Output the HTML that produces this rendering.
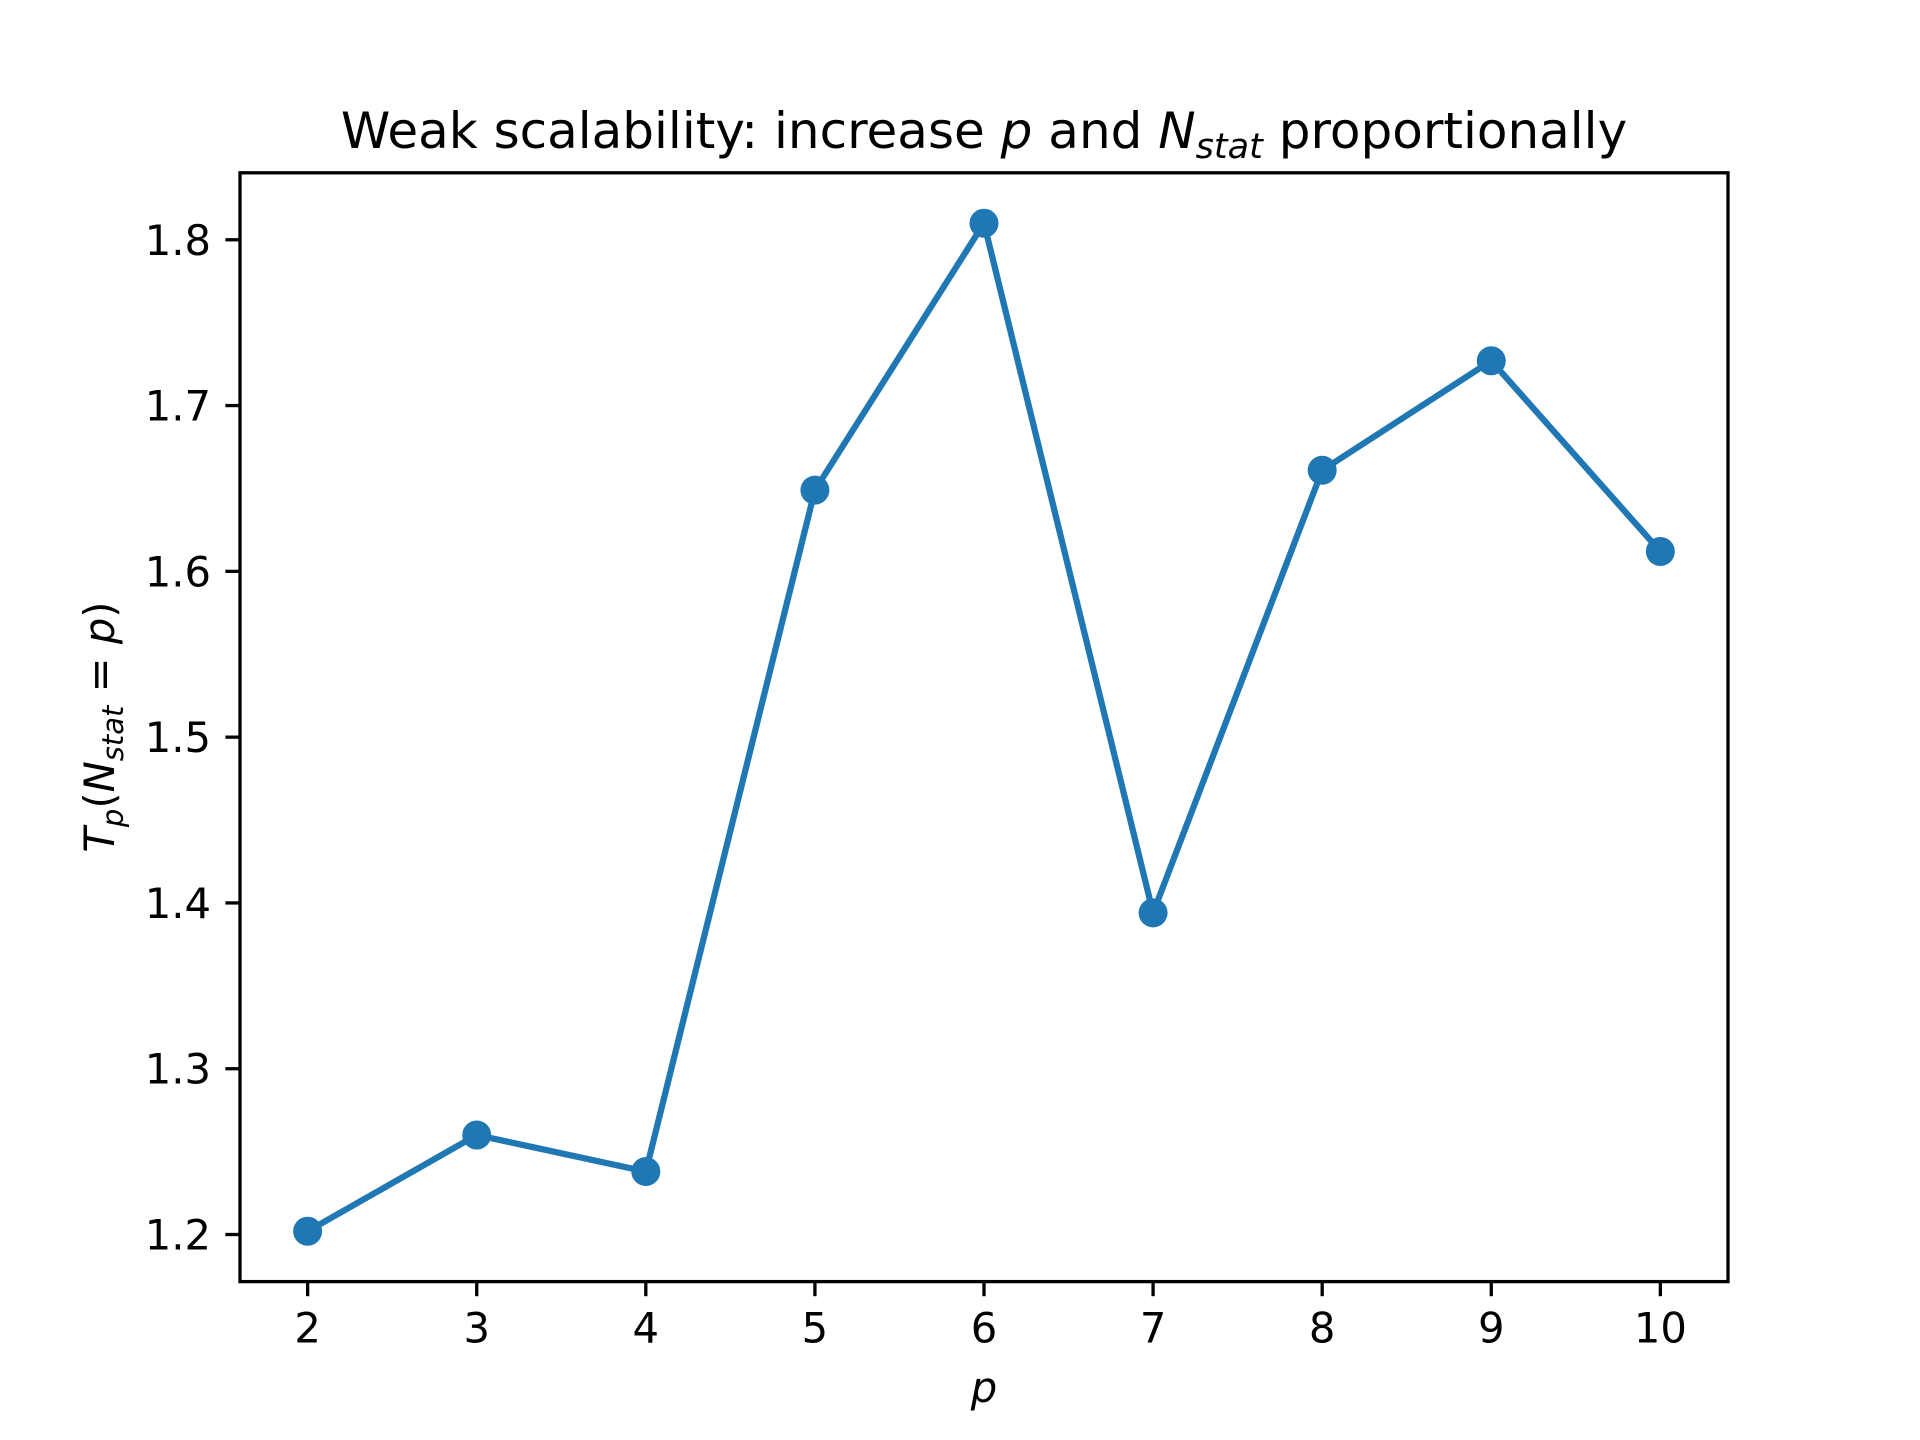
<!DOCTYPE html>
<html><head><meta charset="utf-8"><style>html,body{margin:0;padding:0;background:#fff}svg{display:block}</style></head>
<body>
<svg id="chart" width="1920" height="1440" viewBox="0 0 1920 1440" xmlns="http://www.w3.org/2000/svg" font-family="'DejaVu Sans','Liberation Sans',sans-serif">
<rect width="1920" height="1440" fill="#fff"/>
<text x="984" y="148" font-size="50" text-anchor="middle">Weak scalability: increase <tspan font-style="italic">p</tspan> and <tspan font-style="italic">N</tspan><tspan font-style="italic" font-size="35" dy="10">stat</tspan><tspan dy="-10"> proportionally</tspan></text>
<g id="plot"></g>
<rect x="240" y="172.8" width="1488" height="1108.8" fill="none" stroke="#000" stroke-width="3.3"/>
<text x="984" y="1402" font-size="41.7" font-style="italic" text-anchor="middle">p</text>
<text transform="translate(114,727) rotate(-90)" font-size="41.7" text-anchor="middle"><tspan font-style="italic">T</tspan><tspan font-style="italic" font-size="29" dy="9">p</tspan><tspan dy="-9">(</tspan><tspan font-style="italic">N</tspan><tspan font-style="italic" font-size="29" dy="9">stat</tspan><tspan dy="-9"> = </tspan><tspan font-style="italic">p</tspan>)</text>
</svg>
<script>
const categories = [2, 3, 4, 5, 6, 7, 8, 9, 10];
const values = [1.202, 1.260, 1.238, 1.649, 1.810, 1.394, 1.661, 1.727, 1.612];
const xTicks = [2, 3, 4, 5, 6, 7, 8, 9, 10];
const yTicks = [1.2, 1.3, 1.4, 1.5, 1.6, 1.7, 1.8];
const yTickLabels = ["1.2", "1.3", "1.4", "1.5", "1.6", "1.7", "1.8"];

const NS = "http://www.w3.org/2000/svg";
const L = 240, R = 1728, T = 172.8, B = 1281.6;
const xmin0 = Math.min(...categories), xmax0 = Math.max(...categories);
const xpad = (xmax0 - xmin0) * 0.05;
const ymin0 = Math.min(...values), ymax0 = Math.max(...values);
const ypad = (ymax0 - ymin0) * 0.05;
const xLo = xmin0 - xpad, xHi = xmax0 + xpad, yLo = ymin0 - ypad, yHi = ymax0 + ypad;
function xScale(v) { return L + (v - xLo) / (xHi - xLo) * (R - L); }
function yScale(v) { return B - (v - yLo) / (yHi - yLo) * (B - T); }
const g = document.getElementById("plot");
function mk(tag, attrs) { const e = document.createElementNS(NS, tag); for (const k in attrs) e.setAttribute(k, attrs[k]); return e; }

xTicks.forEach((t) => {
  const x = xScale(t);
  const tk = mk("line", {x1: x, x2: x, y1: B, y2: B + 14.6, stroke: "#000", "stroke-width": 3.3});
  
  
  g.appendChild(tk);
  const lb = mk("text", {x: x, y: B + 29 + 32, "font-size": 41.7, "text-anchor": "middle"});
  
  
  lb.textContent = String(t);
  g.appendChild(lb);
});
yTicks.forEach((t, i) => {
  const y = yScale(t);
  const tk = mk("line", {x1: L - 14.6, x2: L, y1: y, y2: y, stroke: "#000", "stroke-width": 3.3});
  
  
  g.appendChild(tk);
  const lb = mk("text", {x: L - 29, y: y + 15, "font-size": 41.7, "text-anchor": "end"});
  
  
  lb.textContent = yTickLabels[i];
  g.appendChild(lb);
});
const pts = categories.map((c, i) => xScale(c) + "," + yScale(values[i])).join(" ");
const line = mk("polyline", {points: pts, fill: "none", stroke: "#1f77b4", "stroke-width": 6.25, "stroke-linejoin": "round", "stroke-linecap": "square"});


g.appendChild(line);
categories.forEach((c, i) => {
  const p = mk("circle", {cx: xScale(c), cy: yScale(values[i]), r: 14.5, fill: "#1f77b4"});
  
  
  g.appendChild(p);
});
</script>
</body></html>
